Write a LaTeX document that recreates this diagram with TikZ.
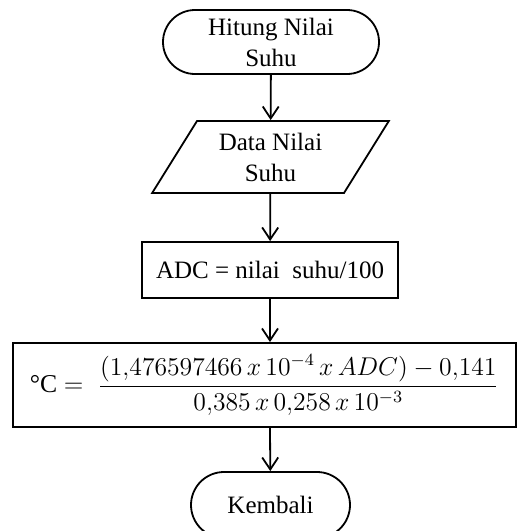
\documentclass[tikz,border=0pt]{standalone}
\usepackage{graphicx}
\usepackage{fontspec}
\setmainfont{Liberation Serif}
\usetikzlibrary{shapes.geometric,shapes.misc,arrows.meta}

\begin{document}
\begin{tikzpicture}[x=0.5pt, y=-0.5pt, line width=0.9pt,
    font=\fontsize{12.5}{15.5}\selectfont,
    terminal/.style={draw, rounded rectangle, align=center, inner sep=0pt},
    masukan/.style={draw, trapezium, trapezium left angle=57,
      trapezium right angle=123, trapezium stretches=true,
      align=center, inner sep=0pt},
    proses/.style={draw, rectangle, align=center, inner sep=0pt},
    panah/.style={-{Straight Barb[length=6pt,width=8pt]}}]
  \useasboundingbox (0,0) rectangle (517,531);
  % alur hitung suhu
  \node[terminal, minimum width=108pt, minimum height=32pt] (mulai) at (271,42) {Hitung Nilai\\Suhu};
  \node[masukan, minimum width=118.5pt, minimum height=36pt] (data) at (270.5,157) {Data Nilai\\Suhu};
  \node[proses, minimum width=128pt, minimum height=28pt] (adc) at (270,270) {ADC = nilai\ \ suhu/100};
  \node[proses, minimum width=251.5pt, minimum height=42pt, font=\fontsize{12}{14}\selectfont] (rumus) at (264.5,385)
    {\scalebox{1.07}{°C $=\;\displaystyle\frac{(1{,}476597466\,x\,10^{-4}\,x\,ADC)-0{,}141}{0{,}385\,x\,0{,}258\,x\,10^{-3}}$}};
  \node[terminal, minimum width=79.5pt, minimum height=33pt] (kembali) at (270.5,505) {Kembali};

  \draw[panah] (mulai) -- (data);
  \draw[panah] (data) -- (adc);
  \draw[panah] (adc.south) -- (adc.south |- rumus.north);
  \draw[panah] (adc.south |- rumus.south) -- (kembali);
\end{tikzpicture}
\end{document}
